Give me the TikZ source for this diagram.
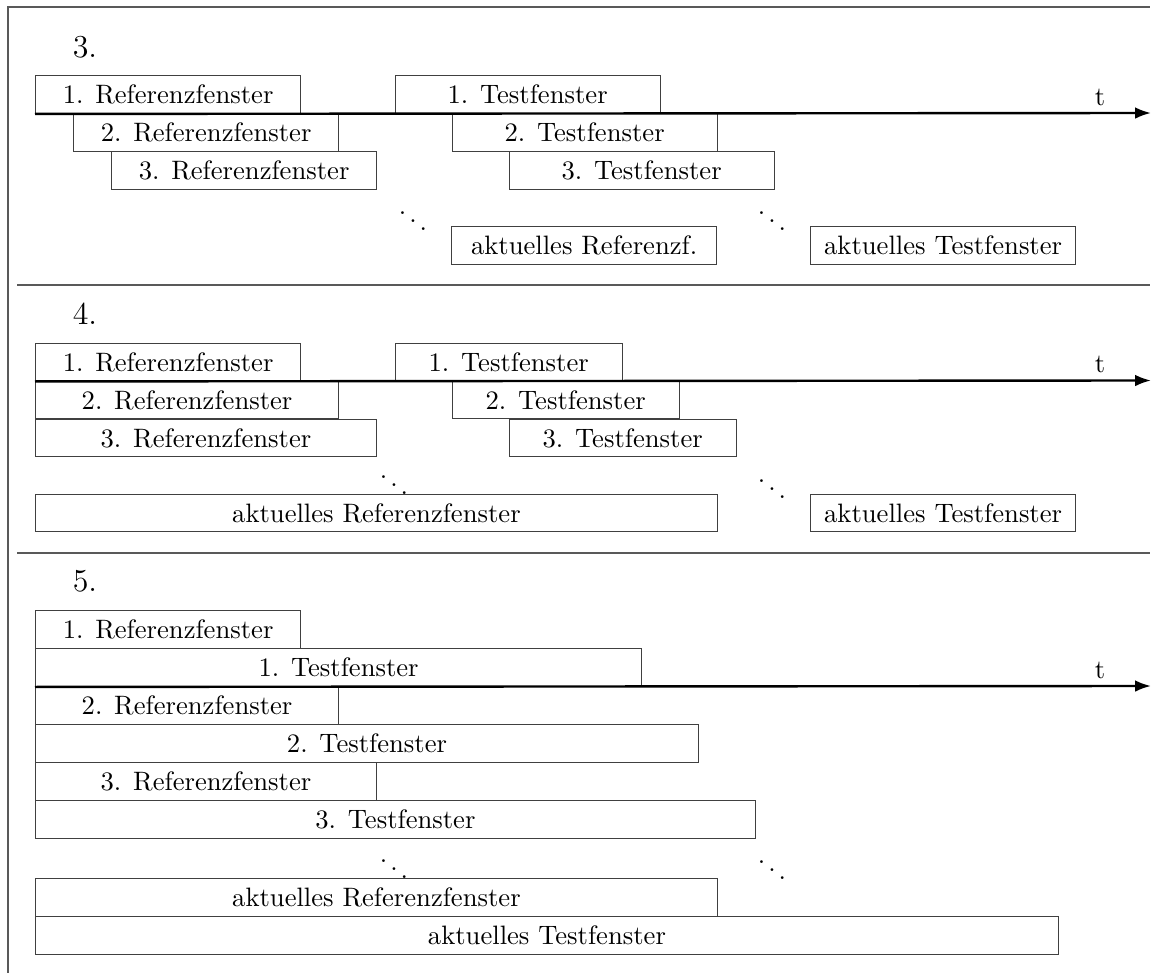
\documentclass[tikz,border=0pt]{standalone}
\usetikzlibrary{arrows.meta}
\begin{document}
\begin{tikzpicture}[x=0.0132013cm,y=-0.0132013cm,
  win/.style={draw=black!75,line width=0.4pt,minimum height=0.5cm,inner sep=0pt,anchor=north west,font=\normalsize},
  axis/.style={line width=0.9pt,-{Latex[length=6pt,width=4.4pt]}},
  rule/.style={draw=black!65,line width=0.4pt},
  head/.style={font=\large,inner sep=0pt},
  dotsn/.style={inner sep=0pt}]
\useasboundingbox (0,0) rectangle (1156,973);
% frame and separators
\draw[rule] (8,973) -- (8,7) -- (1150,7);
\draw[rule] (17,285) -- (1150,285);
\draw[rule] (17,553) -- (1150,553);
% ---------- 3.
\node[head] (h3) at (85,47) {3.};
\node[win,minimum width=3.5cm] (r31) at (35,75) {1. Referenzfenster};
\node[win,minimum width=3.5cm] (r32) at (73,113) {2. Referenzfenster};
\node[win,minimum width=3.5cm] (r33) at (111,151) {3. Referenzfenster};
\node[win,minimum width=3.5cm] (t31) at (394.5,75) {1. Testfenster};
\node[win,minimum width=3.5cm] (t32) at (451.5,113) {2. Testfenster};
\node[win,minimum width=3.5cm] (t33) at (508.5,151) {3. Testfenster};
\node[dotsn] (d31) at (413,213) {$\ddots$};
\node[dotsn] (d32) at (772,213) {$\ddots$};
\node[win,minimum width=3.5cm] (ra3) at (451,226) {aktuelles Referenzf.};
\node[win,minimum width=3.5cm] (ta3) at (810,226) {aktuelles Testfenster};
\coordinate (e3) at (1151,113);
\draw[axis] (r31.south west) -- (e3);
\node (tl3) at (1100,97) {t};
% ---------- 4.
\node[head] (h4) at (85,314) {4.};
\node[win,minimum width=3.5cm] (r41) at (35,342.5) {1. Referenzfenster};
\node[win,minimum width=4cm] (r42) at (35,380.5) {2. Referenzfenster};
\node[win,minimum width=4.5cm] (r43) at (35,418.5) {3. Referenzfenster};
\node[win,minimum width=3cm] (t41) at (394.5,342.5) {1. Testfenster};
\node[win,minimum width=3cm] (t42) at (451.5,380.5) {2. Testfenster};
\node[win,minimum width=3cm] (t43) at (508.5,418.5) {3. Testfenster};
\node[dotsn] (d41) at (394,477) {$\ddots$};
\node[dotsn] (d42) at (772,481) {$\ddots$};
\node[win,minimum width=9cm] (ra4) at (35,493.5) {aktuelles Referenzfenster};
\node[win,minimum width=3.5cm] (ta4) at (810,493.5) {aktuelles Testfenster};
\coordinate (e4) at (1151,380.5);
\draw[axis] (r41.south west) -- (e4);
\node (tl4) at (1100,364) {t};
% ---------- 5.
\node[head] (h5) at (85,581) {5.};
\node[win,minimum width=3.5cm] (r51) at (35,610) {1. Referenzfenster};
\node[win,minimum width=8cm] (t51) at (35,648) {1. Testfenster};
\node[win,minimum width=4cm] (r52) at (35,686) {2. Referenzfenster};
\node[win,minimum width=8.75cm] (t52) at (35,724) {2. Testfenster};
\node[win,minimum width=4.5cm] (r53) at (35,762) {3. Referenzfenster};
\node[win,minimum width=9.5cm] (t53) at (35,800) {3. Testfenster};
\node[dotsn] (d51) at (394,861) {$\ddots$};
\node[dotsn] (d52) at (772,862) {$\ddots$};
\node[win,minimum width=9cm] (ra5) at (35,878) {aktuelles Referenzfenster};
\node[win,minimum width=13.5cm] (ta5) at (35,916) {aktuelles Testfenster};
\coordinate (e5) at (1151,686);
\draw[axis] (t51.south west) -- (e5);
\node (tl5) at (1100,670) {t};
\end{tikzpicture}
\end{document}
